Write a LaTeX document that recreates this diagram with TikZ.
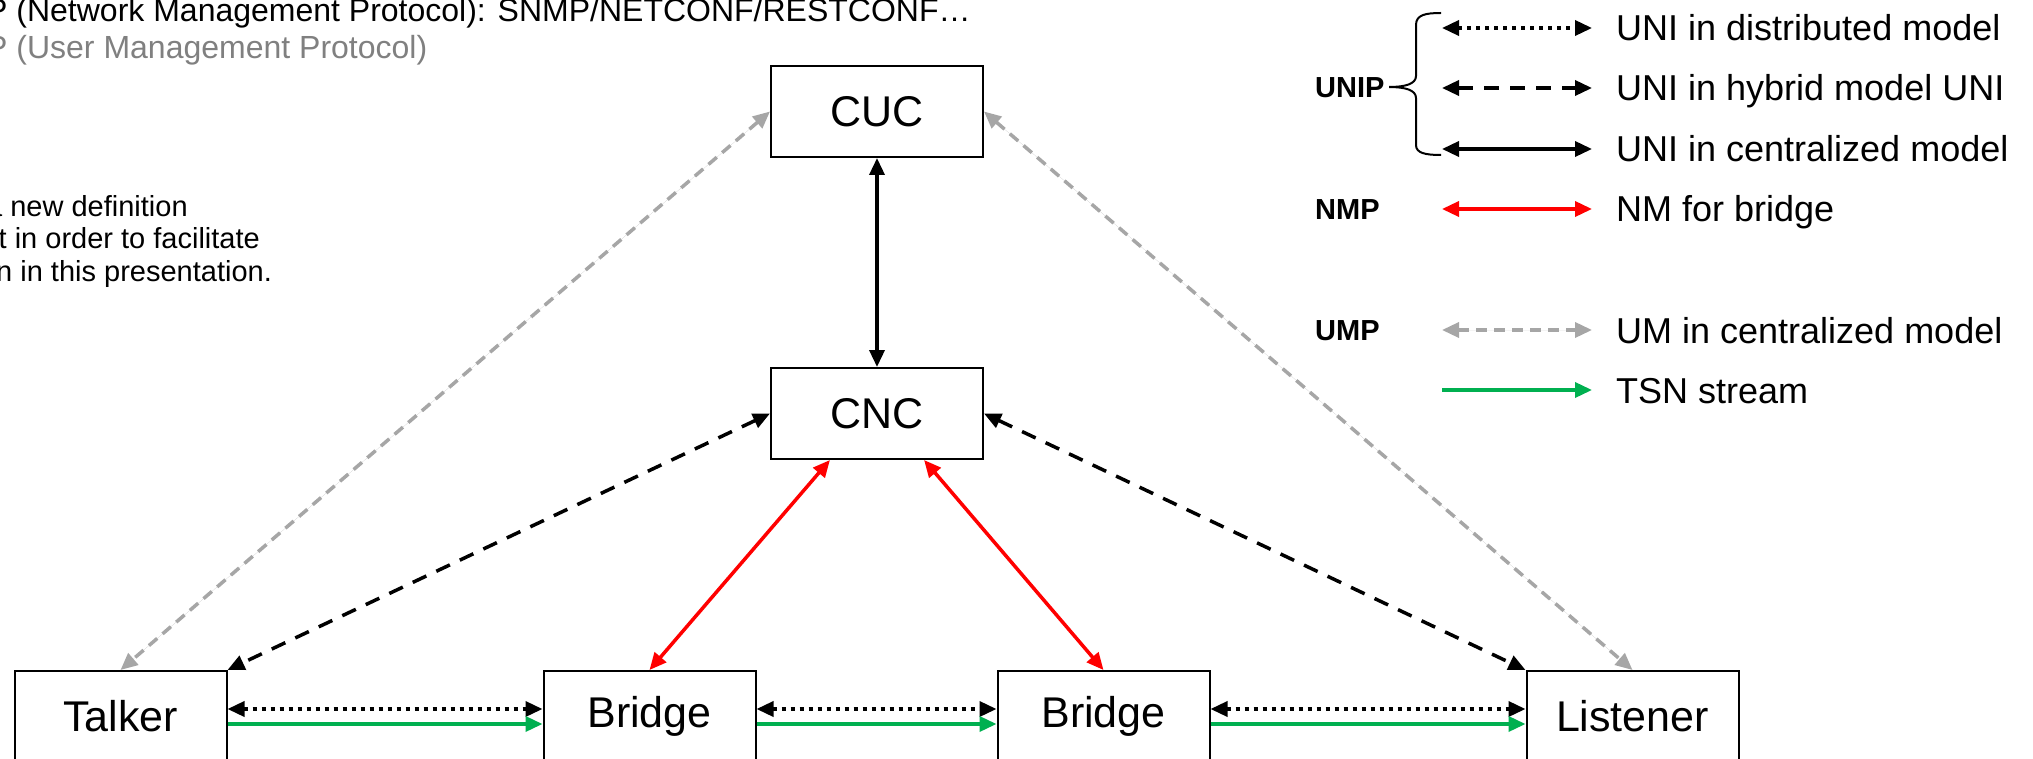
\documentclass[tikz,border=0pt]{standalone}
\usepackage{fontspec}
\setmainfont{Liberation Sans}
\usetikzlibrary{arrows.meta,calc}
\definecolor{umpgrey}{HTML}{A6A6A6}
\definecolor{nmpred}{HTML}{FF0000}
\definecolor{tsngreen}{HTML}{00B050}
\definecolor{notegrey}{HTML}{808080}
\tikzset{
  entity/.style={draw=black, line width=2pt, fill=white, minimum width=212pt,
    minimum height=91pt, inner sep=0pt, font=\fontsize{43}{51}\selectfont},
  onetip/.style={-{Triangle[length=17pt,width=15pt]}},
  twotips/.style={{Triangle[length=17pt,width=15pt]}-{Triangle[length=17pt,width=15pt]}},
  link/.style={line width=3.5pt},
  unidist/.style={link, twotips, dash pattern=on 4pt off 5pt},
  unihyb/.style={link, twotips, dash pattern=on 15pt off 11pt},
  unicen/.style={link, twotips},
  nmlink/.style={link, twotips, draw=nmpred, fill=nmpred},
  umlink/.style={link, twotips, draw=umpgrey, fill=umpgrey, dash pattern=on 11pt off 7pt},
  tsnlink/.style={link, onetip, draw=tsngreen, fill=tsngreen},
  legtext/.style={anchor=base west, inner sep=0pt, font=\fontsize{36}{43}\selectfont},
  legkey/.style={anchor=base west, inner sep=0pt, font=\bfseries\fontsize{29}{35}\selectfont},
  note/.style={anchor=base west, inner sep=0pt, font=\fontsize{32}{38}\selectfont},
  para/.style={anchor=base west, inner sep=0pt, font=\fontsize{29}{35}\selectfont},
}
\begin{document}
\begin{tikzpicture}[x=1pt, y=-1pt]
\useasboundingbox (0,0) rectangle (2033,759);
\clip (0,0) rectangle (2033,759);

% notes at the top left
\node[note] (nmpnote) at (-14,22) {P (Network Management Protocol): SNMP/NETCONF/RESTCONF…};
\node[note, text=notegrey] (umpnote) at (-14,59) {P (User Management Protocol)};
\node[para] (def1) at (-14,217) {a new definition};
\node[para] (def2) at (-16,249) {st in order to facilitate};
\node[para] (def3) at (-4,281) {n in this presentation.};

% entities
\node[entity] (cuc) at (877,111.5) {CUC};
\node[entity] (cnc) at (877,413.5) {CNC};
\node[entity] (talker) at (120.5,716.5) {Talker};
\node[entity] (bridgeA) at (649.5,716.5) {Bridge};
\node[entity] (bridgeB) at (1103.5,716.5) {Bridge};
\node[entity] (listener) at (1632.5,716.5) {Listener};

% user management
\draw[umlink] (cuc.west) -- (talker.north);
\draw[umlink] (cuc.east) -- (listener.north);

% UNI, centralized and hybrid
\draw[unicen] (cuc.south) -- (cnc.north);
\draw[unihyb] (cnc.west) -- (talker.north east);
\draw[unihyb] (cnc.east) -- (listener.north west);

% network management of the bridges
\draw[nmlink] ($(cnc.south west)!0.28!(cnc.south east)$) -- (bridgeA.north);
\draw[nmlink] ($(cnc.south west)!0.72!(cnc.south east)$) -- (bridgeB.north);

% UNI in distributed model and the stream
\draw[unidist] ([yshift=7.5pt]talker.east) -- ([yshift=7.5pt]bridgeA.west);
\draw[unidist] ([yshift=7.5pt]bridgeA.east) -- ([yshift=7.5pt]bridgeB.west);
\draw[unidist] ([yshift=7.5pt]bridgeB.east) -- ([yshift=7.5pt]listener.west);
\draw[tsnlink] ([yshift=-7.5pt]talker.east) -- ([yshift=-7.5pt]bridgeA.west);
\draw[tsnlink] ([yshift=-7.5pt]bridgeA.east) -- ([yshift=-7.5pt]bridgeB.west);
\draw[tsnlink] ([yshift=-7.5pt]bridgeB.east) -- ([yshift=-7.5pt]listener.west);

% legend
\foreach \n/\y in {1/28,2/88,3/149,4/209,5/330,6/390}{
  \coordinate (ka\n) at (1442,\y);
  \coordinate (kb\n) at (1592,\y);
}
\draw[unidist] (ka1) -- (kb1);
\draw[unihyb] (ka2) -- (kb2);
\draw[unicen] (ka3) -- (kb3);
\draw[nmlink] (ka4) -- (kb4);
\draw[umlink] (ka5) -- (kb5);
\draw[tsnlink] (ka6) -- (kb6);

\node[legtext] (t1) at (1616,41) {UNI in distributed model};
\node[legtext] (t2) at (1616,101) {UNI in hybrid model UNI};
\node[legtext] (t3) at (1616,162) {UNI in centralized model};
\node[legtext] (t4) at (1616,222) {NM for bridge};
\node[legtext] (t5) at (1616,343) {UM in centralized model};
\node[legtext] (t6) at (1616,403) {TSN stream};

\node[legkey] (unip) at (1315,98) {UNIP};
\node[legkey] (nmp) at (1315,219.5) {NMP};
\node[legkey] (ump) at (1315,340.5) {UMP};

% brace grouping the three UNI models
\draw[line width=2pt] (1441,13) .. controls (1425,13) and (1416,15) .. (1416,25)
  -- (1416,76) .. controls (1416,84) and (1405,87) .. (1389,87)
  .. controls (1405,87) and (1416,90) .. (1416,98)
  -- (1416,145) .. controls (1416,153) and (1425,155) .. (1441,155);
\end{tikzpicture}
\end{document}
